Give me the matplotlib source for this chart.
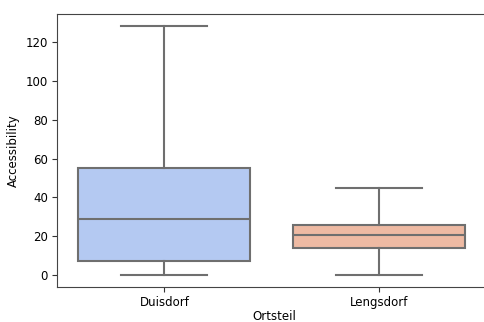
import matplotlib.pyplot as plt
import seaborn as sns

ortsteile = ["Duisdorf", "Lengsdorf"]
whislo = [0.0, 0.0]
q1 = [7.0, 13.8]
med = [28.6, 20.3]
q3 = [55.3, 25.9]
whishi = [128.3, 44.6]

colors = ["#b4c9f2", "#eebaa3"]
line_color = "#6f6f6f"

stats = [
    {"label": o, "whislo": lo, "q1": a, "med": m, "q3": b, "whishi": hi, "fliers": []}
    for o, lo, a, m, b, hi in zip(ortsteile, whislo, q1, med, q3, whishi)
]

fig = plt.figure(figsize=(4.85, 3.22), dpi=100)
ax = fig.add_axes([0.1175, 0.1087, 0.895, 0.8478])

line_kw = dict(color=line_color, linewidth=1.5)
bp = ax.bxp(stats, positions=range(len(stats)), widths=0.8, patch_artist=True,
            showfliers=False, boxprops=dict(edgecolor=line_color, linewidth=1.5),
            medianprops=line_kw, whiskerprops=line_kw, capprops=line_kw,
            capwidths=0.4)
for patch, c in zip(bp["boxes"], colors):
    patch.set_facecolor(c)

ax.set_xlim(-0.5, 1.52)
ax.set_ylim(-6.4, 134.7)
ax.set_yticks([0, 20, 40, 60, 80, 100, 120])
ax.tick_params(labelsize=8.5, color="#333333", pad=3)
ax.set_xlabel("Ortsteil", fontsize=8.5, labelpad=1)
ax.set_ylabel("Accessibility", fontsize=8.5)
for s in ax.spines.values():
    s.set_color("#444444")
ax.spines["right"].set_visible(False)

fig.savefig("out.png", dpi=100)
